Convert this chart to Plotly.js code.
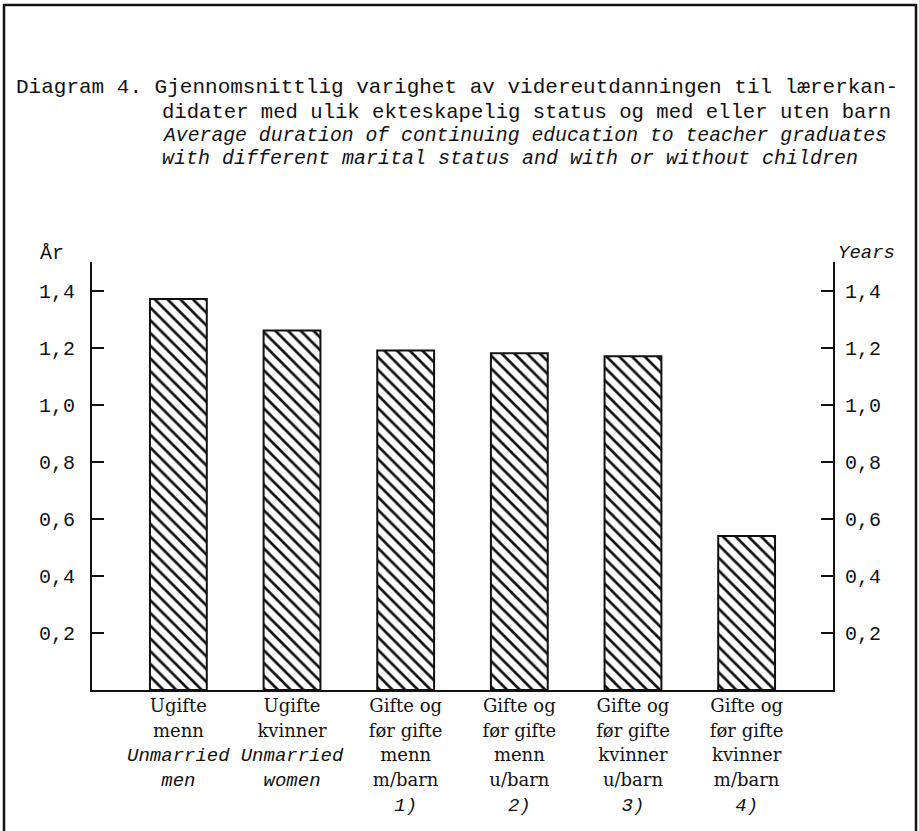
<!DOCTYPE html>
<html>
<head>
<meta charset="utf-8">
<script src="https://cdn.plot.ly/plotly-3.0.1.min.js"></script>
<style>
  html, body { margin: 0; padding: 0; background: #ffffff; }
  #chart { width: 919px; height: 831px; }
</style>
</head>
<body>
<div id="chart"></div>
<script>
// ---- data ----
const labelNorwegian = [
  ["Ugifte", "menn"],
  ["Ugifte", "kvinner"],
  ["Gifte og", "før gifte", "menn", "m/barn"],
  ["Gifte og", "før gifte", "menn", "u/barn"],
  ["Gifte og", "før gifte", "kvinner", "u/barn"],
  ["Gifte og", "før gifte", "kvinner", "m/barn"]
];
const labelEnglish = [
  ["Unmarried", "men"],
  ["Unmarried", "women"],
  [], [], [], []
];
const footnoteRefs = ["", "", "1)", "2)", "3)", "4)"];
const durationYears = [1.37, 1.26, 1.19, 1.18, 1.17, 0.54];
const yTickValues = [0.2, 0.4, 0.6, 0.8, 1.0, 1.2, 1.4];
const titleNo1 = "Diagram 4. Gjennomsnittlig varighet av videreutdanningen til lærerkan-";
const titleNo2 = "didater med ulik ekteskapelig status og med eller uten barn";
const titleEn1 = "Average duration of continuing education to teacher graduates";
const titleEn2 = "with different marital status and with or without children";
const leftUnit = "År";
const rightUnit = "Years";

const MONO = "'Liberation Mono', 'DejaVu Sans Mono', monospace";
const INK = "#111111";

const upright = s => '<span style="font-family:DejaVu Serif;font-size:18px">' + s + '</span>';
const categories = labelNorwegian.map((no, i) => {
  const lines = no.map(upright);
  labelEnglish[i].forEach(s => lines.push("<i>" + s + "</i>"));
  if (footnoteRefs[i]) lines.push("<i>" + footnoteRefs[i] + "</i>");
  return lines.join("<br>");
});

const bars = {
  type: "bar",
  x: categories,
  y: durationYears,
  marker: {
    color: "#ffffff",
    line: { color: INK, width: 2 },
    pattern: { shape: "\\", fgcolor: INK, bgcolor: "#ffffff", size: 9, solidity: 0.3 }
  },
  hoverinfo: "skip"
};

// same values attached to the right-hand axis so that axis is drawn (no visible marks)
const rightAxisCarrier = {
  type: "scatter",
  mode: "markers",
  x: categories,
  y: durationYears,
  yaxis: "y2",
  marker: { opacity: 0, size: 1 },
  hoverinfo: "skip"
};

const yAxisCommon = {
  range: [0, 1.5],
  tickmode: "array",
  tickvals: yTickValues,
  tickformat: ".1f",
  ticks: "inside",
  ticklen: 12,
  tickwidth: 2,
  tickcolor: INK,
  showline: true,
  linecolor: INK,
  linewidth: 2,
  showgrid: false,
  zeroline: false,
  tickfont: { family: MONO, size: 20, color: INK },
  fixedrange: true
};

const L = 92, R = 86, T = 262, B = 141, W = 919, H = 831;
const pw = W - L - R, ph = H - T - B;
const px = x => (x - L) / pw;
const py = y => (H - B - y) / ph;

function note(text, x, y, anchor, size, italic) {
  return {
    text: italic ? "<i>" + text + "</i>" : text,
    xref: "paper", yref: "paper",
    x: px(x), y: py(y),
    xanchor: anchor, yanchor: "middle",
    showarrow: false,
    font: { family: MONO, size: size, color: INK }
  };
}

const layout = {
  width: W, height: H,
  margin: { l: L, r: R, t: T, b: B },
  paper_bgcolor: "#ffffff",
  plot_bgcolor: "#ffffff",
  showlegend: false,
  separators: ", ",
  bargap: 0.5,
  xaxis: {
    type: "category",
    range: [-0.76, 5.76],
    showline: true,
    linecolor: INK,
    linewidth: 2,
    ticks: "",
    showgrid: false,
    tickangle: 0,
    ticklabelstandoff: -3,
    tickfont: { family: MONO, size: 19, color: INK },
    fixedrange: true
  },
  yaxis: Object.assign({}, yAxisCommon, { side: "left", ticklabelstandoff: 11 }),
  yaxis2: Object.assign({}, yAxisCommon, { side: "right", overlaying: "y", ticklabelstandoff: 6 }),
  annotations: [
    note(titleNo1, 14, 87, "left", 21, false),
    note(titleNo2, 160, 112, "left", 20.6, false),
    note(titleEn1, 160, 136, "left", 19.75, true),
    note(titleEn2, 160, 158, "left", 20, true),
    note(leftUnit, 38, 253, "left", 20, false),
    note(rightUnit, 897, 253, "right", 19, true)
  ],
  shapes: [
    {
      type: "path",
      xref: "paper", yref: "paper",
      path: "M " + px(4) + "," + py(845) + " L " + px(4) + "," + py(5) +
            " L " + px(916) + "," + py(5) + " L " + px(916) + "," + py(845),
      line: { color: INK, width: 2.5 }
    }
  ]
};

Plotly.newPlot("chart", [bars, rightAxisCarrier], layout, { displayModeBar: false, staticPlot: true });
</script>
</body>
</html>
